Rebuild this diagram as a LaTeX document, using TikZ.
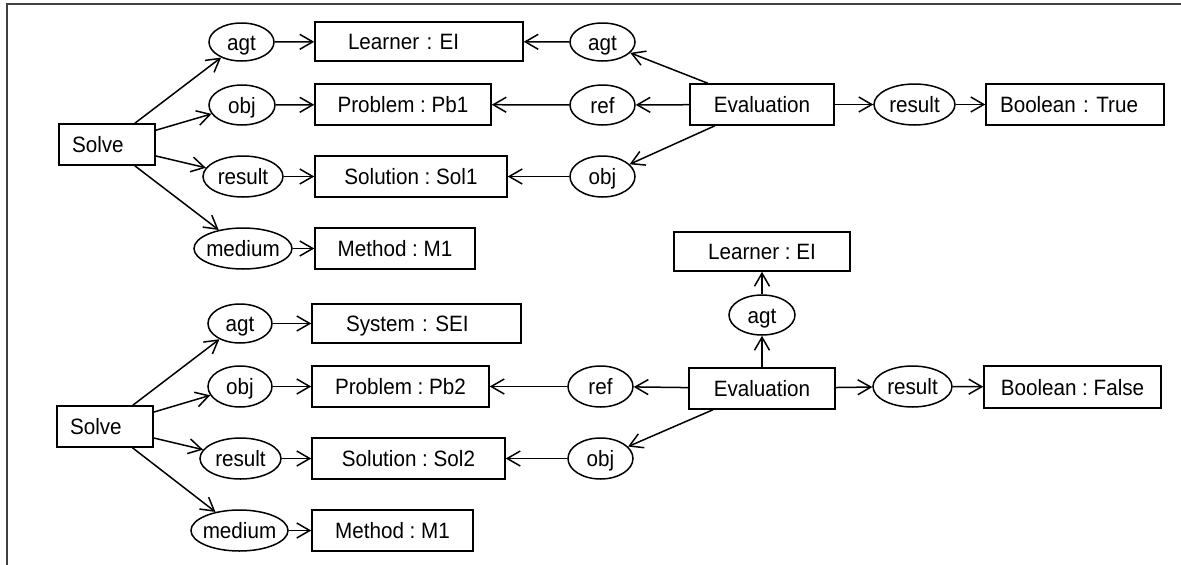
\documentclass[tikz,border=0pt]{standalone}
\usepackage{fontspec}
\setmainfont{Liberation Sans}[FakeStretch=0.93]
\usepackage{tikz}
\usetikzlibrary{arrows.meta, shapes.geometric, positioning}
\frenchspacing

\tikzset{
    box/.style={draw, rectangle, line width=1.5pt, minimum height=41pt, inner sep=0pt,
        font=\fontsize{22.2pt}{26pt}\selectfont, text height=16pt, text depth=0pt},
    lbox/.style={box, align=left, inner xsep=#1},
    rel/.style={draw, ellipse, line width=1.5pt, minimum width=65pt, minimum height=40pt, inner sep=0pt,
        font=\fontsize{22.2pt}{26pt}\selectfont, text height=16pt, text depth=0pt},
    arr/.style={line width=1.5pt, -{Straight Barb[length=13pt,width=15pt,line width=1.5pt]}},
    frame/.style={line width=1.5pt, black!75}
}

\begin{document}
\begin{tikzpicture}[x=1pt, y=-1pt]
                        \useasboundingbox (0,0) rectangle (1181,565);
                        \draw[frame] (7,565) -- (7,4) -- (1181,4);
                        % upper graph
                        \node[lbox=13pt, text width=70pt] (solveA) at (107,144.5) {Solve};
                        \node[rel, minimum height=38pt] (agtA) at (241.5,42) {agt};
                        \node[rel, minimum width=66pt] (objA) at (242,105) {obj};
                        \node[rel, minimum width=80pt, minimum height=41pt] (resA) at (243,176.5) {result};
                        \node[rel, minimum width=98pt, minimum height=41pt, inner xsep=-2.4pt] (medA) at (243,248.5) {medium};
                        \node[lbox=33pt, text width=142pt, minimum height=39pt] (learnerA) at (419,41.5) {Learner : EI};
                        \node[box, minimum width=176pt] (problemA) at (403,104.5) {Problem : Pb1};
                        \node[box, minimum width=192pt] (solutionA) at (411,176.5) {Solution : Sol1};
                        \node[box, minimum width=160pt] (methodA) at (395,248.5) {Method : M1};
                        \node[rel, minimum height=38pt] (agtB) at (602.5,42) {agt};
                        \node[rel] (refB) at (602.5,105) {ref};
                        \node[rel, minimum height=41pt] (objB) at (602.5,176.5) {obj};
                        \node[box, minimum width=144pt] (evalA) at (762,104.5) {Evaluation};
                        \node[rel, minimum width=81pt, minimum height=41pt] (resB) at (914.5,104.5) {result};
                        \node[lbox=14pt, text width=150pt] (boolA) at (1075,104.5) {Boolean : True};
                        \draw[arr] (solveA) -- (agtA);
                        \draw[arr] (solveA) -- (objA);
                        \draw[arr] (solveA) -- (resA);
                        \draw[arr] (solveA) -- (medA);
                        \draw[arr] (agtA) -- (learnerA);
                        \draw[arr] (objA) -- (problemA);
                        \draw[arr] (resA) -- (solutionA);
                        \draw[arr] (medA) -- (methodA);
                        \draw[arr] (evalA) -- (agtB);
                        \draw[arr] (evalA) -- (refB);
                        \draw[arr] (evalA) -- (objB);
                        \draw[arr] (evalA) -- (resB);
                        \draw[arr] (agtB) -- (learnerA);
                        \draw[arr] (refB) -- (problemA);
                        \draw[arr] (objB) -- (solutionA);
                        \draw[arr] (resB) -- (boolA);
                        % lower graph
                        \node[lbox=13pt, text width=70pt] (solveC) at (105,426.5) {Solve};
                        \node[rel, minimum width=64pt, minimum height=39pt] (agtC) at (240,323.5) {agt};
                        \node[rel, minimum width=64pt, minimum height=41pt] (objC) at (240,386.5) {obj};
                        \node[rel, minimum width=81pt, minimum height=41pt] (resC) at (240.5,458.5) {result};
                        \node[rel, minimum width=97pt, minimum height=41pt, inner xsep=-2.4pt] (medC) at (239.5,530.5) {medium};
                        \node[lbox=34pt, text width=141pt, minimum height=39pt] (systemC) at (416.5,323.5) {System : SEI};
                        \node[box, minimum width=177pt] (problemC) at (400.5,386.5) {Problem : Pb2};
                        \node[box, minimum width=193pt] (solutionC) at (408.5,458.5) {Solution : Sol2};
                        \node[box, minimum width=161pt] (methodC) at (392.5,530.5) {Method : M1};
                        \node[box, minimum width=176pt, minimum height=39pt] (learnerD) at (762,251.5) {Learner : EI};
                        \node[rel, minimum width=66pt] (agtD) at (762,315) {agt};
                        \node[box, minimum width=146pt] (evalD) at (762,388.5) {Evaluation};
                        \node[rel, minimum height=41pt] (refD) at (600.5,386.5) {ref};
                        \node[rel, minimum height=41pt] (objD) at (600.5,458.5) {obj};
                        \node[rel, minimum width=79pt, minimum height=41pt] (resD) at (912.5,386.5) {result};
                        \node[box, minimum width=177pt, minimum height=42pt] (boolD) at (1072.5,387) {Boolean : False};
                        \draw[arr] (solveC) -- (agtC);
                        \draw[arr] (solveC) -- (objC);
                        \draw[arr] (solveC) -- (resC);
                        \draw[arr] (solveC) -- (medC);
                        \draw[arr] (agtC) -- (systemC);
                        \draw[arr] (objC) -- (problemC);
                        \draw[arr] (resC) -- (solutionC);
                        \draw[arr] (medC) -- (methodC);
                        \draw[arr] (evalD) -- (agtD);
                        \draw[arr] (evalD) -- (refD);
                        \draw[arr] (evalD) -- (objD);
                        \draw[arr] (evalD) -- (resD);
                        \draw[arr] (agtD) -- (learnerD);
                        \draw[arr] (refD) -- (problemC);
                        \draw[arr] (objD) -- (solutionC);
                        \draw[arr] (resD) -- (boolD);
                    \end{tikzpicture}
\end{document}
